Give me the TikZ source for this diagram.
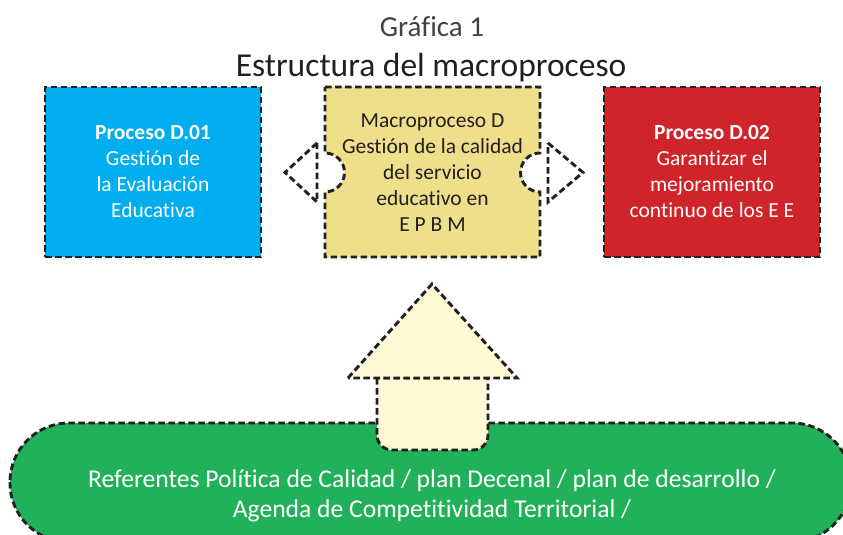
\documentclass[tikz,border=0pt]{standalone}
\usepackage{fontspec}
\setmainfont{Carlito}[Ligatures=NoCommon]
\usepackage{tikz}

\definecolor{inkdark}{HTML}{231F20}
\definecolor{procblue}{HTML}{00AEEF}
\definecolor{procred}{HTML}{D1232A}
\definecolor{macroyellow}{HTML}{EEDF8A}
\definecolor{refgreen}{HTML}{22B15B}
\definecolor{arrowcream}{HTML}{FFF8D5}

\tikzset{
  dashline/.style={draw=inkdark, line width=2.9pt, dash pattern=on 6.5pt off 3.5pt},
  procbox/.style={dashline, minimum width=216pt, minimum height=170pt, inner sep=0pt,
    align=center, text=white, font=\fontsize{21.5}{26}\selectfont},
  boxtext/.style={align=center, inner sep=0pt, font=\fontsize{21.5}{26}\selectfont}
}

\begin{document}
\begin{tikzpicture}[x=1pt, y=-1pt]
\clip (0,0) rectangle (843,535);
\useasboundingbox (0,0) rectangle (843,535);

% title
\node[text=inkdark!85, font=\fontsize{29}{36}\selectfont, anchor=base] (graf) at (432,36.5) {Gráfica 1};
\node[text=inkdark, font=\fontsize{33.5}{36}\selectfont, anchor=base] (titulo) at (431,76.5) {Estructura del macroproceso};

% the two processes
\node[procbox, fill=procblue] (d01) at (153,172)
  {\textbf{Proceso D.01}\\Gestión de\\la Evaluación\\Educativa};
\node[procbox, fill=procred] (d02) at (712,172)
  {\textbf{Proceso D.02}\\Garantizar el\\mejoramiento\\continuo de los E E};

% macroprocess with notches
\draw[dashline, fill=macroyellow] (325,87) -- (540,87) -- (540,153)
  arc[start angle=-90, end angle=-270, radius=19.5] -- (540,257) -- (325,257) -- (325,192)
  arc[start angle=90, end angle=-90, radius=19.5] -- cycle;
\node[boxtext, text=inkdark] (macro) at (432.5,173)
  {Macroproceso D\\Gestión de la calidad\\del servicio\\educativo en\\E P B M};

% side pointers
\draw[dashline] (317,143) -- (285,172.5) -- (317,202) -- cycle;
\draw[dashline] (548,143) -- (583,172.5) -- (548,202) -- cycle;

% referents
\draw[dashline, fill=refgreen, rounded corners=59pt] (10,423) rectangle (851,542);
\node[text=white, align=center, font=\fontsize{25.6}{30}\selectfont] (refs) at (432,496)
  {Referentes Política de Calidad / plan Decenal / plan de desarrollo /\\Agenda de Competitividad Territorial /};

% arrow up
\draw[dashline, fill=arrowcream] (377,378) [rounded corners=15pt]-- (377,450) -- (488,450)
  [sharp corners]-- (488,378) -- cycle;
\draw[dashline, fill=arrowcream] (348,378) -- (432,284) -- (517,378) -- cycle;

\end{tikzpicture}
\end{document}
